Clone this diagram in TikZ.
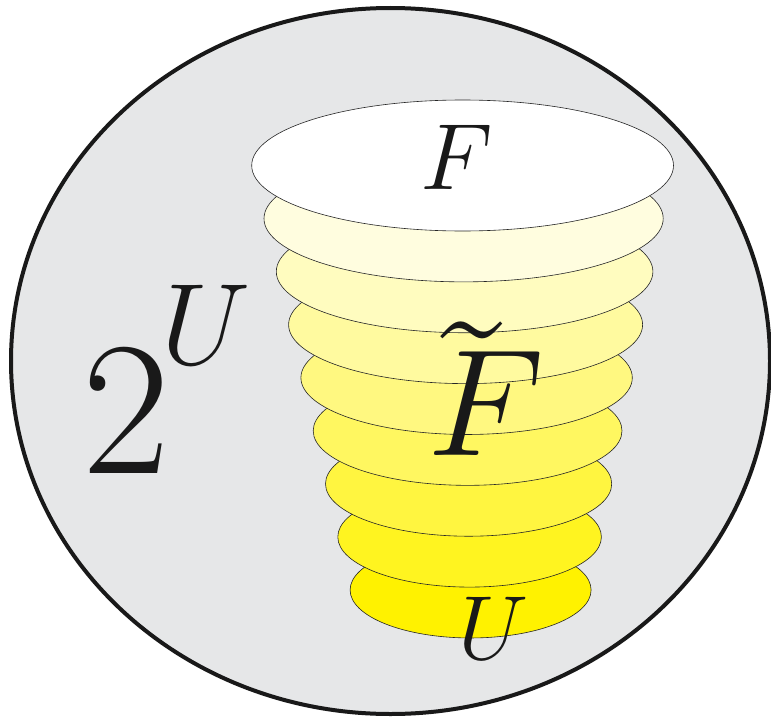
\documentclass[tikz,border=0pt]{standalone}
\usepackage{graphicx}
\definecolor{ylw}{RGB}{255,242,0}
\definecolor{bgray}{RGB}{230,231,232}
\tikzset{
  outer/.style={draw=black!90, line width=4pt, fill=bgray},
  layer/.style={draw=black!85, line width=0.6pt},
  lbl/.style={anchor=base, inner sep=0pt, text=black!90, font=\Huge}
}
\begin{document}
\begin{tikzpicture}[x=1pt,y=-1pt]
\useasboundingbox (0,0) rectangle (771,717);
\draw[outer] (390.5,361) ellipse [x radius=379.5pt, y radius=353pt];
\foreach \i in {8,7,...,0}{
  \pgfmathsetmacro{\cx}{462.6+1.0*\i}
  \pgfmathsetmacro{\cy}{165.5+53.06*\i}
  \pgfmathsetmacro{\rx}{210.9-11.3*\i}
  \pgfmathsetmacro{\ry}{65.5-2.19*\i}
  \pgfmathsetmacro{\pc}{12.5*\i}
  \draw[layer, fill=ylw!\pc!white] (\cx,\cy) ellipse [x radius=\rx pt, y radius=\ry pt];
}
\node[lbl] (F) at (457,189) {\scalebox{3.78}{$F$}};
\node[lbl] (Ft) at (486,455) {\scalebox{6.11}{$\rlap{\kern-0.2pt\raisebox{0.6pt}{\scalebox{1.3}{$\mathchar"707E$}}}F$}};
\node[lbl] (two) at (126,473) {\scalebox{7.68}{$2$}};
\node[lbl] (sup) at (206,364) {\scalebox{4.66}{$U$}};
\node[lbl] (U) at (494,659) {\scalebox{3.66}{$U$}};
\end{tikzpicture}
\end{document}
